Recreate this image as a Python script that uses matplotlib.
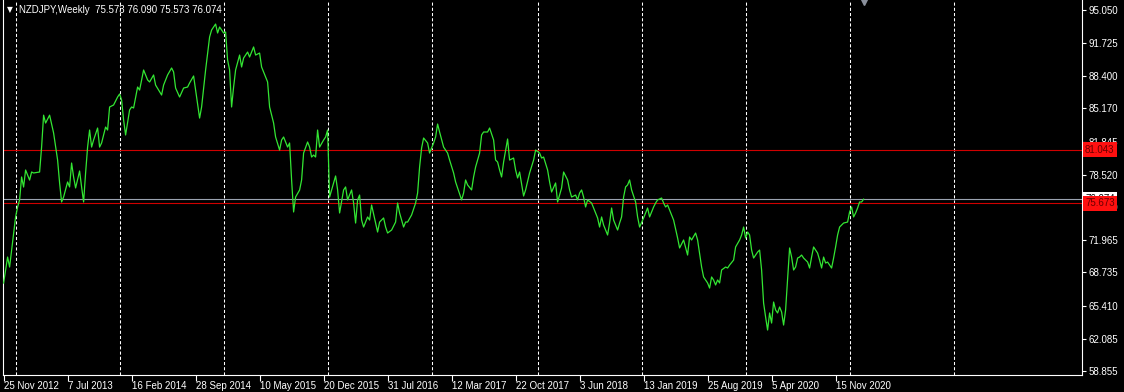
import math
import datetime as dt
import matplotlib
matplotlib.use("Agg")
from matplotlib import pyplot as plt

plt.rcParams["font.family"] = ["Liberation Sans", "DejaVu Sans"]

# weekly NZDJPY closes (weeks counted from 25 Nov 2012)
symbol = "NZDJPY,Weekly"
last_ohlc = [75.573, 76.090, 75.573, 76.074]
start = dt.date(2012, 11, 25)

weeks = [0, 2, 3, 5, 6, 7, 8, 9, 10, 11, 13, 14, 15, 18, 19, 20, 21, 23, 25, 27,
         28, 29, 30, 32, 33, 34, 35, 36, 38, 39, 40, 41, 42, 43, 44, 45, 47, 48, 49, 51,
         52, 53, 55, 57, 58, 59, 60, 61, 63, 64, 65, 67, 68, 70, 72, 73, 75, 76, 79, 80,
         82, 84, 85, 86, 88, 90, 92, 93, 95, 96, 98, 99, 101, 103, 104, 106, 107, 108, 110, 111,
         112, 113, 114, 115, 116, 118, 119, 120, 122, 123, 125, 126, 128, 129, 131, 132, 133, 135, 136, 138,
         139, 140, 142, 143, 144, 145, 146, 148, 149, 150, 152, 153, 154, 155, 156, 157, 158, 160, 161, 162,
         163, 165, 166, 167, 168, 170, 171, 172, 174, 175, 176, 177, 178, 179, 180, 182, 183, 184, 186, 187,
         188, 190, 191, 192, 194, 196, 197, 198, 200, 201, 202, 204, 206, 207, 208, 209, 210, 212, 213, 214,
         215, 216, 217, 218, 220, 222, 223, 225, 226, 227, 229, 230, 231, 232, 234, 235, 236, 238, 239, 240,
         242, 243, 245, 246, 247, 248, 249, 250, 252, 253, 255, 256, 257, 258, 260, 261, 263, 265, 266, 268,
         269, 270, 272, 273, 274, 276, 277, 279, 280, 282, 283, 284, 286, 287, 288, 289, 290, 291, 292, 294,
         295, 297, 298, 299, 300, 302, 303, 304, 305, 307, 308, 309, 310, 311, 312, 313, 314, 316, 317, 318,
         320, 321, 322, 323, 325, 326, 327, 329, 330, 331, 332, 335, 337, 338, 340, 342, 343, 344, 346, 347,
         349, 350, 352, 353, 354, 355, 356, 357, 358, 359, 361, 362, 363, 365, 366, 368, 369, 370, 371, 372,
         373, 374, 375, 377, 378, 379, 380, 381, 382, 383, 384, 385, 386, 387, 388, 389, 390, 391, 392, 393,
         394, 395, 396, 397, 398, 399, 400, 402, 403, 404, 405, 407, 408, 409, 410, 411, 412, 414, 415, 416,
         417, 418, 420, 422, 423, 424, 425, 426, 427, 428, 429, 430]

close = [67.66, 70.27, 69.27, 72.68, 74.29, 75.29, 75.99, 78.30, 77.29, 79.00, 77.99, 78.80, 78.70, 78.80, 81.30, 84.50, 83.71, 84.50, 82.71, 80.00,
         77.70, 75.79, 76.29, 77.80, 77.30, 79.70, 78.30, 77.20, 78.90, 77.30, 75.79, 78.70, 81.30, 83.01, 81.30, 82.01, 83.21, 81.30, 81.71, 83.31,
         83.01, 85.32, 85.52, 86.32, 86.62, 86.02, 84.01, 82.51, 85.02, 85.32, 85.22, 87.32, 87.02, 89.03, 88.03, 87.83, 88.53, 87.52, 86.52, 87.52,
         88.53, 89.23, 88.83, 87.22, 86.32, 87.22, 87.32, 87.73, 88.43, 87.02, 84.21, 85.32, 89.03, 92.34, 93.04, 93.64, 92.74, 93.34, 92.74, 92.84,
         90.03, 89.03, 85.32, 87.32, 89.03, 90.53, 89.33, 90.23, 90.83, 90.33, 91.34, 90.53, 90.73, 89.33, 88.33, 87.83, 85.32, 83.71, 82.31, 81.00,
         82.01, 82.31, 81.30, 81.71, 78.00, 74.79, 76.29, 76.99, 78.00, 80.70, 81.81, 81.30, 80.30, 80.50, 80.30, 83.01, 81.30, 82.01, 82.31, 83.01,
         76.29, 77.70, 78.40, 77.00, 74.69, 77.00, 77.30, 76.00, 77.00, 75.69, 73.68, 76.00, 76.49, 73.98, 73.28, 74.29, 73.98, 75.49, 73.68, 72.78,
         73.78, 74.19, 73.28, 72.68, 72.98, 73.78, 75.69, 74.69, 73.28, 73.78, 73.78, 74.49, 75.69, 76.69, 79.30, 81.20, 82.21, 81.71, 80.70, 81.20,
         81.71, 82.31, 83.61, 82.81, 81.30, 80.70, 80.00, 78.70, 77.80, 77.20, 76.00, 76.69, 78.00, 77.50, 77.00, 78.30, 79.30, 80.70, 82.51, 82.81,
         82.81, 83.21, 82.01, 80.00, 79.80, 79.00, 78.30, 79.80, 82.11, 80.00, 80.20, 79.00, 78.20, 78.80, 76.39, 77.00, 78.70, 80.00, 81.00, 80.70,
         80.20, 80.30, 79.00, 77.80, 76.79, 77.70, 75.79, 77.20, 78.80, 78.00, 77.00, 76.29, 76.49, 76.00, 76.69, 77.00, 76.29, 75.29, 76.00, 75.69,
         75.19, 74.19, 73.28, 74.29, 73.48, 72.48, 73.68, 75.19, 73.98, 72.98, 73.68, 74.29, 76.29, 77.30, 77.50, 78.00, 77.00, 75.79, 74.29, 73.28,
         74.19, 74.69, 75.19, 74.29, 75.29, 75.69, 76.00, 76.19, 75.69, 75.29, 75.49, 73.98, 72.18, 71.18, 71.98, 70.47, 72.28, 71.98, 72.68, 71.98,
         69.27, 68.27, 67.67, 67.16, 68.27, 67.97, 67.47, 67.97, 67.67, 68.97, 69.27, 69.17, 69.47, 69.97, 71.28, 71.98, 72.48, 73.28, 72.18, 72.78,
         72.48, 70.97, 70.17, 70.77, 70.97, 68.97, 65.66, 64.26, 62.95, 64.66, 63.65, 65.76, 64.96, 64.66, 65.26, 64.76, 63.45, 64.96, 68.00, 71.18,
         70.27, 68.97, 69.27, 70.17, 70.27, 70.47, 70.17, 69.77, 69.17, 70.27, 71.28, 70.67, 69.97, 69.17, 70.27, 69.67, 69.77, 69.17, 70.17, 71.28,
         72.48, 73.28, 73.68, 73.78, 74.79, 75.29, 74.29, 74.69, 75.19, 75.79, 75.79, 76.074]

levels = [81.043, 75.673]
bid = 76.074

price_ticks = [58.855, 62.085, 65.410, 68.735, 71.965, 75.290,
               78.520, 81.845, 85.170, 88.400, 91.725, 95.050]
date_labels = ["25 Nov 2012", "7 Jul 2013", "16 Feb 2014", "28 Sep 2014",
               "10 May 2015", "20 Dec 2015", "31 Jul 2016", "12 Mar 2017",
               "22 Oct 2017", "3 Jun 2018", "13 Jan 2019", "25 Aug 2019",
               "5 Apr 2020", "15 Nov 2020"]
label_step = 32  # weeks between date labels
grid_years = list(range(2013, 2023))

W, H = 1124, 392
fig = plt.figure(figsize=(W / 100, H / 100), dpi=100, facecolor="black")
ax = fig.add_axes([3 / W, 17 / H, 1079 / W, 375 / H])
ax.set_facecolor("black")

# yearly dashed grid
for yr in grid_years:
    wk = math.ceil((dt.date(yr, 1, 1) - start).days / 7)
    ax.axvline(wk, color="white", lw=0.75, linestyle=(0, (3, 2)), zorder=1)

for lvl in levels:
    ax.axhline(lvl, color="#d00000", lw=0.8, zorder=2)
ax.axhline(bid, color="#9aa2b0", lw=0.8, zorder=2)

ax.plot(weeks, close, color="#33e633", lw=0.9, zorder=3)

ax.set_xlim(-0.3, 539.2)
ax.set_ylim(58.44, 96.05)

for side in ["left", "bottom", "right"]:
    ax.spines[side].set_color("white")
    ax.spines[side].set_linewidth(0.8)
ax.spines["top"].set_visible(False)

ax.yaxis.tick_right()
ax.set_yticks(price_ticks)
ax.set_yticklabels([f"{p:.3f}" for p in price_ticks])
ax.tick_params(axis="y", colors="white", direction="out", length=3,
               width=0.8, pad=2, labelsize=7)

ax.set_xticks([i * label_step for i in range(len(date_labels))])
ax.set_xticklabels(date_labels)
ax.tick_params(axis="x", colors="white", direction="out", length=4,
               width=0.8, pad=0, labelsize=7)
plt.setp(ax.get_xticklabels(), ha="left")

# price labels on the axis
ytr = ax.get_yaxis_transform()
ax.text(1 + 3 / 1079, bid, f"{bid:.3f}", transform=ytr, ha="left", va="center",
        fontsize=7, color="black", zorder=9, clip_on=False,
        bbox=dict(boxstyle="square,pad=0.25", fc="white", ec="none"))
for lvl in levels:
    ax.text(1 + 3 / 1079, lvl, f"{lvl:.3f}", transform=ytr, ha="left", va="center",
            fontsize=7, color="#6a0000", zorder=10, clip_on=False,
            bbox=dict(boxstyle="square,pad=0.25", fc="#ff1010", ec="none"))

# chart shift marker
ax.plot(weeks[-1], 0.998, marker="v", color="#8a909c", markersize=6,
        transform=ax.get_xaxis_transform(), clip_on=False, zorder=5)

fig.text(7 / W, 1 - 10 / H, "\u25bc", color="white", fontsize=5.5, va="center",
         family="DejaVu Sans")
fig.text(19 / W, 1 - 10 / H,
         symbol + "  " + " ".join(f"{v:.3f}" for v in last_ohlc),
         color="white", fontsize=7, va="center")

fig.savefig("out.png", dpi=100, facecolor="black")
